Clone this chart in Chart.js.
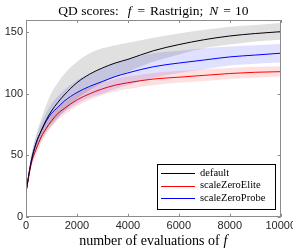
<!DOCTYPE html>
<html>
<head>
<meta charset="utf-8">
<script src="https://cdn.jsdelivr.net/npm/chart.js@4.4.1/dist/chart.umd.min.js"></script>
<style>
  html, body { margin: 0; padding: 0; background: #fff; overflow: hidden; }
  #wrap { position: relative; width: 299px; height: 252px; }
</style>
</head>
<body>
<div id="wrap"><canvas id="c"></canvas></div>
<script>
// ---- data ----
const evals = [0, 200, 400, 600, 800, 1000, 1250, 1500, 2000, 2500, 3000, 3500, 4000, 5000, 6000, 7000, 8000, 9000, 10000];

const defaultMean = [20, 44, 60, 70, 79, 86, 93, 99, 109, 116, 121, 125, 128, 135, 140, 144, 147, 149, 150.5];
const defaultHi   = [22, 49, 67, 80, 91, 101, 109, 116, 126, 133, 137, 139.5, 141.5, 145.5, 149, 152, 154.5, 156, 157.5];
const defaultLo   = [18, 40, 54, 62, 69, 74, 80, 86, 96, 103, 109, 114, 118, 126, 132, 137, 140, 142.5, 144];

const eliteMean = [20, 43, 55, 65, 72, 78, 84, 88, 95, 100, 104, 107, 109, 112, 113.5, 115, 116.5, 117.5, 118];
const eliteHi   = [22, 47, 60, 70, 77, 83, 89, 93, 100, 105, 109, 112, 114, 117, 118.5, 120, 121, 122, 122.5];
const eliteLo   = [18, 39, 50, 60, 67, 73, 79, 83, 90, 95, 99, 102, 104, 107, 109, 110.5, 112, 113, 114];

const probeMean = [20, 45, 60, 70, 78, 84, 89, 94, 101, 106, 110, 114, 117, 122, 125, 127.5, 130, 131.5, 133];
const probeHi   = [22, 49, 65, 76, 85, 92, 98, 103, 111, 116, 121, 125, 128, 133, 135, 137, 138.5, 139.5, 140.5];
const probeLo   = [18, 41, 55, 64, 71, 76, 81, 85, 92, 97, 100, 104, 107, 113, 117, 120, 123, 124.5, 125.5];

const seriesNames = ['default', 'scaleZeroElite', 'scaleZeroProbe'];
const xTicks = [0, 2000, 4000, 6000, 8000, 10000];
const yTicks = [0, 50, 100, 150];
// title / axis label pieces: [text, italic?]
const titleParts = [['QD scores:', false], ['f', true], ['=', false], ['Rastrigin;', false], ['N', true], ['=', false], ['10', false]];
const titleGaps  = [9, 6, 5, 6, 5, 4];
const xLabelParts = [['number of evaluations of', false], ['f', true]];
const xLabelGaps  = [4];

// ---- build datasets ----
const pts = (ys) => evals.map((x, i) => ({ x: x, y: ys[i] }));
const common = { pointRadius: 0, cubicInterpolationMode: 'monotone' };
const band = (lo, hi, color) => ([
  { ...common, data: pts(lo), borderWidth: 0, fill: false, backgroundColor: color, isBand: true },
  { ...common, data: pts(hi), borderWidth: 0, fill: '-1', backgroundColor: color, isBand: true }
]);
const line = (ys, color, name) => ({
  ...common, label: name, data: pts(ys), borderColor: color, borderWidth: 1, fill: false
});

const datasets = [
  ...band(defaultLo, defaultHi, 'rgba(0,0,0,0.12)'),
  ...band(eliteLo, eliteHi, 'rgba(255,0,0,0.12)'),
  ...band(probeLo, probeHi, 'rgba(0,0,255,0.12)'),
  line(defaultMean, '#000000', seriesNames[0]),
  line(eliteMean, '#ff0000', seriesNames[1]),
  line(probeMean, '#0000ff', seriesNames[2])
];

const AXIS = '#8c8c8c';
const SERIF = '"Liberation Serif", "DejaVu Serif", serif';

function drawParts(ctx, parts, gaps, cx, baseline, size) {
  const fontOf = (it) => (it ? 'italic ' : '') + size + 'px ' + SERIF;
  let total = 0;
  parts.forEach((p, i) => {
    ctx.font = fontOf(p[1]);
    total += ctx.measureText(p[0]).width + (i < gaps.length ? gaps[i] : 0);
  });
  let x = cx - total / 2;
  ctx.textAlign = 'left';
  ctx.textBaseline = 'alphabetic';
  parts.forEach((p, i) => {
    ctx.font = fontOf(p[1]);
    ctx.fillText(p[0], x, baseline);
    x += ctx.measureText(p[0]).width + (i < gaps.length ? gaps[i] : 0);
  });
}

const framePlugin = {
  id: 'frame',
  afterDatasetsDraw(chart) {
    const { ctx, chartArea: a, scales } = chart;
    ctx.save();
    ctx.strokeStyle = AXIS;
    ctx.lineWidth = 1;
    ctx.strokeRect(Math.round(a.left) + 0.5, Math.round(a.top) + 0.5,
                   Math.round(a.right - a.left) - 1, Math.round(a.bottom - a.top) - 1);
    const tl = 3;
    ctx.beginPath();
    xTicks.forEach(v => {
      const px = Math.round(scales.x.getPixelForValue(v)) + 0.5;
      ctx.moveTo(px, a.bottom); ctx.lineTo(px, a.bottom - tl);
      ctx.moveTo(px, a.top); ctx.lineTo(px, a.top + tl);
    });
    yTicks.forEach(v => {
      const py = Math.round(scales.y.getPixelForValue(v)) + 0.5;
      ctx.moveTo(a.left, py); ctx.lineTo(a.left + tl, py);
      ctx.moveTo(a.right, py); ctx.lineTo(a.right - tl, py);
    });
    ctx.stroke();

    // legend box (MATLAB style, bottom-right inside axes)
    const lines = chart.data.datasets.filter(d => !d.isBand);
    const bx = 157, by = 164, bw = 118, bh = 45;
    ctx.fillStyle = '#ffffff';
    ctx.fillRect(bx, by, bw, bh);
    ctx.strokeStyle = '#000000';
    ctx.strokeRect(bx + 0.5, by + 0.5, bw, bh);
    ctx.font = '10.5px ' + SERIF;
    ctx.textBaseline = 'middle';
    lines.forEach((d, i) => {
      const yy = by + 9 + i * 12.5;
      ctx.strokeStyle = d.borderColor;
      ctx.lineWidth = 1;
      ctx.beginPath();
      ctx.moveTo(bx + 4, Math.round(yy) + 0.5);
      ctx.lineTo(bx + 38, Math.round(yy) + 0.5);
      ctx.stroke();
      ctx.fillStyle = '#000';
      ctx.fillText(d.label, bx + 43, yy);
    });

    // title and x-axis label (mixed roman / italic)
    const cx = (a.left + a.right) / 2;
    ctx.fillStyle = '#000';
    drawParts(ctx, titleParts, titleGaps, cx, 15, 13.5);
    drawParts(ctx, xLabelParts, xLabelGaps, cx, 245, 14);
    ctx.restore();
  }
};

new Chart(document.getElementById('c'), {
  type: 'line',
  data: { datasets },
  options: {
    responsive: true,
    maintainAspectRatio: false,
    animation: false,
    layout: { padding: { left: 2, right: 0, top: 20, bottom: 16 } },
    plugins: {
      legend: { display: false },
      tooltip: { enabled: false },
      title: { display: false }
    },
    scales: {
      x: {
        type: 'linear',
        min: 0, max: 10000,
        afterBuildTicks: (s) => { s.ticks = xTicks.map(v => ({ value: v })); },
        ticks: {
          color: '#262626', font: { family: '"Liberation Sans", Arial, sans-serif', size: 11 },
          padding: 3, maxRotation: 0, autoSkip: false,
          callback: (v) => String(v)
        },
        grid: { display: true, drawOnChartArea: false, drawTicks: false },
        border: { display: false }
      },
      y: {
        type: 'linear',
        min: 0, max: 160,
        afterBuildTicks: (s) => { s.ticks = yTicks.map(v => ({ value: v })); },
        afterFit: (s) => { s.width = 24; },
        ticks: { color: '#262626', font: { family: '"Liberation Sans", Arial, sans-serif', size: 11 }, padding: 3 },
        grid: { display: true, drawOnChartArea: false, drawTicks: false },
        border: { display: false }
      }
    }
  },
  plugins: [framePlugin]
});
</script>
</body>
</html>
